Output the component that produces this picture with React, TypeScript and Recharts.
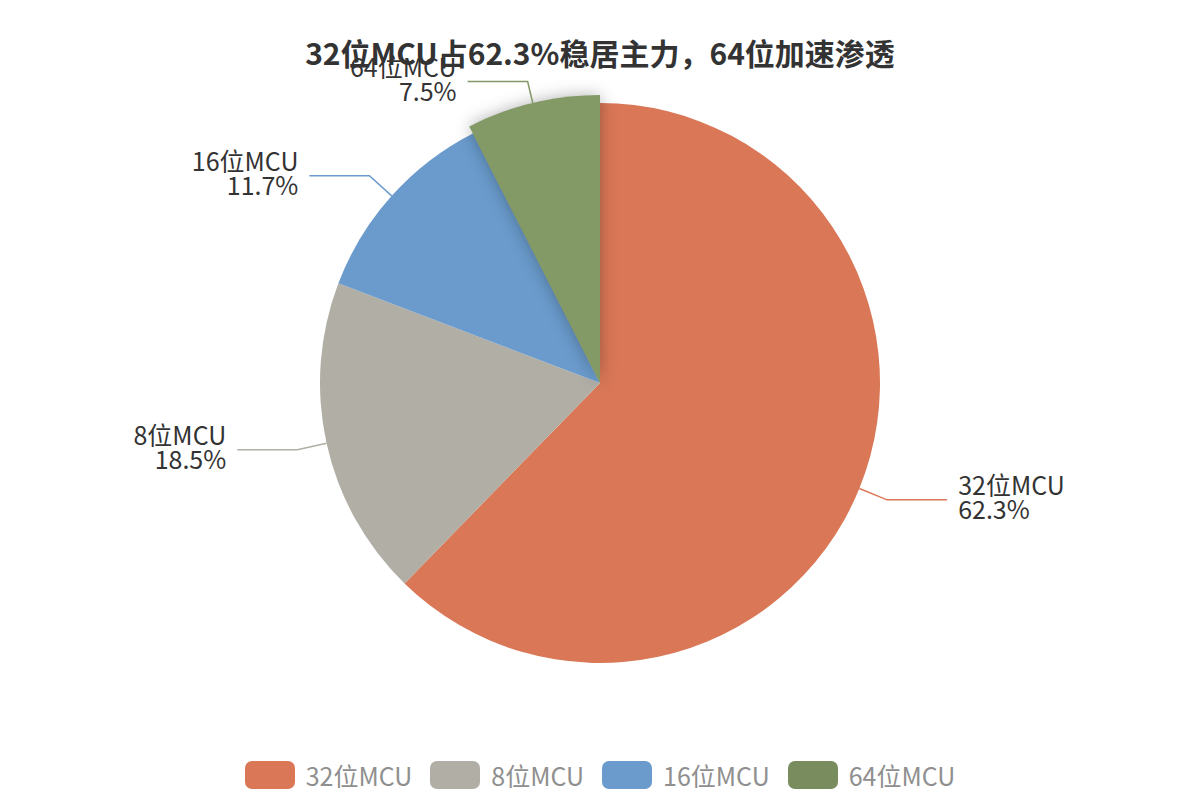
import { PieChart, Pie, Cell, Legend } from "recharts";

const categories = ["32位MCU", "8位MCU", "16位MCU", "64位MCU"];
const shares = [62.3, 18.5, 11.7, 7.5];
const colors = ["#d97757", "#b0aea5", "#6a9bcc", "#788c5d"];
const highlightName = "64位MCU";
const highlightColor = "#839966";
const title = "32位MCU占62.3%稳居主力，64位加速渗透";

const FONT = '"Noto Sans CJK SC", "Noto Sans", sans-serif';
const RAD = Math.PI / 180;

const data = categories.map((name, i) => ({ name, value: shares[i] }));

function renderLabel(props: any) {
    const { cx, cy, midAngle, outerRadius, name, value, index } = props;
    const r = outerRadius + (name === highlightName ? 8 : 0);
    const cos = Math.cos(-midAngle * RAD);
    const sin = Math.sin(-midAngle * RAD);
    const sx = cx + r * cos;
    const sy = cy + r * sin;
    const mx = cx + (outerRadius + 30) * cos;
    const my = cy + (outerRadius + 30) * sin;
    const right = cos >= 0;
    const ex = mx + (right ? 60 : -60);
    const tx = ex + (right ? 11 : -11);
    const anchor = right ? "start" : "end";
    const stroke = name === highlightName ? highlightColor : colors[index];
    return (
        <g key={`lbl-${name}`}>
            <polyline
                points={`${sx},${sy} ${mx},${my} ${ex},${my}`}
                fill="none"
                stroke={stroke}
                strokeWidth={1.5}
            />
            <text x={tx} y={my - 5} textAnchor={anchor} fill="#333" fontSize={25} fontFamily={FONT}>
                {name}
            </text>
            <text x={tx} y={my + 19} textAnchor={anchor} fill="#333" fontSize={25} fontFamily={FONT}>
                {`${value}%`}
            </text>
        </g>
    );
}

function LegendContent() {
    return (
        <div style={{ display: "flex", justifyContent: "center", gap: 18, fontFamily: FONT }}>
            {categories.map((name, i) => (
                <div key={name} style={{ display: "flex", alignItems: "center", gap: 11 }}>
                    <div style={{ width: 50, height: 28, borderRadius: 7, background: colors[i] }} />
                    <span style={{ fontSize: 25, color: "#8f8f8f", lineHeight: "28px" }}>{name}</span>
                </div>
            ))}
        </div>
    );
}

export default function App() {
    return (
        <div style={{ position: "absolute", left: 0, top: 0, width: 1200, height: 800, background: "#fff" }}>
            <PieChart width={1200} height={800} margin={{ top: 0, right: 0, bottom: 0, left: 0 }}>
                <Pie
                    data={data}
                    dataKey="value"
                    nameKey="name"
                    cx={600}
                    cy={383}
                    outerRadius={280}
                    startAngle={90}
                    endAngle={-270}
                    stroke="none"
                    label={renderLabel}
                    labelLine={false}
                    isAnimationActive={false}
                >
                    {data.map((d, i) => (
                        <Cell key={d.name} fill={colors[i]} />
                    ))}
                </Pie>
                <Pie
                    data={data}
                    dataKey="value"
                    nameKey="name"
                    cx={600}
                    cy={383}
                    outerRadius={288}
                    startAngle={90}
                    endAngle={-270}
                    stroke="none"
                    label={false}
                    labelLine={false}
                    isAnimationActive={false}
                >
                    {data.map((d) => (
                        <Cell
                            key={d.name}
                            fill={d.name === highlightName ? highlightColor : "none"}
                            style={
                                d.name === highlightName
                                    ? { filter: "drop-shadow(0px 0px 8px rgba(0,0,0,0.3))" }
                                    : undefined
                            }
                        />
                    ))}
                </Pie>
                <Legend
                    verticalAlign="bottom"
                    content={<LegendContent />}
                    wrapperStyle={{ bottom: 11 }}
                />
            </PieChart>
            <div
                style={{
                    position: "absolute",
                    left: 0,
                    top: 32,
                    width: 1200,
                    textAlign: "center",
                    fontFamily: FONT,
                    fontWeight: 700,
                    fontSize: 30,
                    lineHeight: "40px",
                    color: "#333",
                    pointerEvents: "none",
                }}
            >
                {title}
            </div>
        </div>
    );
}
